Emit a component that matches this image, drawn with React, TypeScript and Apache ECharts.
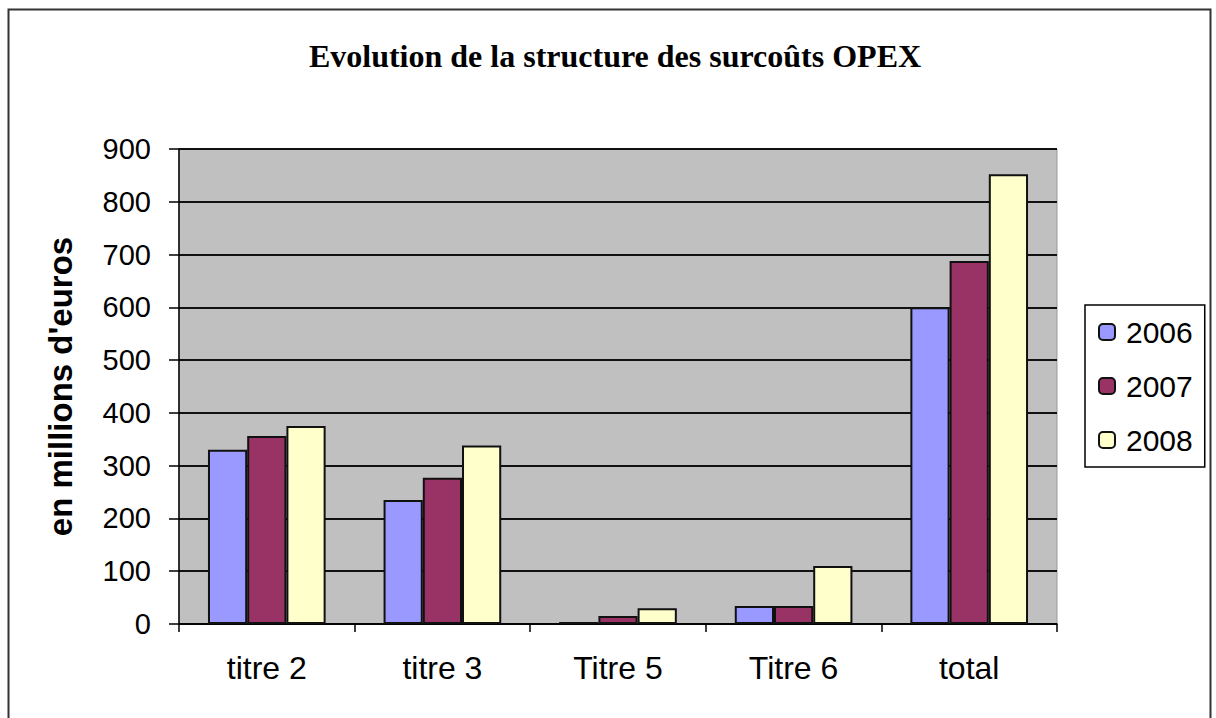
import React, { useEffect, useRef } from "react";
import * as echarts from "echarts";

const categories = ["titre 2", "titre 3", "Titre 5", "Titre 6", "total"];
const seriesNames = ["2006", "2007", "2008"];
const values2006 = [330, 235, 4, 34, 600];
const values2007 = [356, 277, 15, 34, 688];
const values2008 = [375, 338, 30, 110, 852];
const colors = ["#9999ff", "#993366", "#ffffcc"];

export default function App() {
  const ref = useRef<HTMLDivElement>(null);
  useEffect(() => {
    if (!ref.current) return;
    const chart = echarts.init(ref.current, undefined, { renderer: "svg" });
    const data = [values2006, values2007, values2008];
    chart.setOption({
      animation: false,
      backgroundColor: "#ffffff",
      title: {
        text: "Evolution de la structure des surcoûts OPEX",
        left: 610,
        textAlign: "center",
        top: 35,
        textStyle: {
          fontFamily: "Liberation Serif",
          fontWeight: "bold",
          fontSize: 32,
          color: "#000",
        },
      },
      graphic: [
        {
          type: "rect",
          shape: { x: 8.5, y: 9.5, width: 1202, height: 720 },
          style: { fill: "none", stroke: "#333", lineWidth: 2 },
          silent: true,
        },
      ],
      legend: {
        orient: "vertical",
        left: 1085,
        top: 305,
        width: 120,
        padding: [12, 12, 12, 13],
        itemGap: 24,
        itemWidth: 16,
        itemHeight: 16,
        borderColor: "#000",
        borderWidth: 1.5,
        data: seriesNames,
        textStyle: {
          fontFamily: "Liberation Sans",
          fontSize: 30,
          color: "#000",
          padding: [0, 0, 0, 6],
        },
      },
      grid: {
        left: 179,
        right: 1216 - 1057,
        top: 149,
        bottom: 718 - 624,
        show: true,
        backgroundColor: "#c0c0c0",
        borderColor: "#999",
        borderWidth: 1,
      },
      xAxis: {
        type: "category",
        data: categories,
        axisLine: { lineStyle: { color: "#000", width: 1.5 } },
        axisTick: { show: true, length: 8, lineStyle: { color: "#000", width: 1.5 } },
        axisLabel: {
          fontFamily: "Liberation Sans",
          fontSize: 32,
          color: "#000",
          margin: 28,
        },
      },
      yAxis: {
        type: "value",
        min: 0,
        max: 900,
        interval: 100,
        name: "en millions d'euros",
        nameLocation: "middle",
        nameGap: 102,
        nameTextStyle: {
          fontFamily: "Liberation Sans",
          fontWeight: "bold",
          fontSize: 33,
          color: "#000",
        },
        axisLine: { show: true, lineStyle: { color: "#000", width: 1.5 } },
        axisTick: { show: true, length: 10, lineStyle: { color: "#000", width: 1.5 } },
        axisLabel: {
          fontFamily: "Liberation Sans",
          fontSize: 29,
          color: "#000",
          margin: 28,
        },
        splitLine: { lineStyle: { color: "#111", width: 2 } },
      },
      series: seriesNames.map((name, i) => ({
        name,
        type: "bar",
        data: data[i],
        barGap: "0%",
        barCategoryGap: "33%",
        itemStyle: { color: colors[i], borderColor: "#111", borderWidth: 2 },
      })),
    });
    return () => chart.dispose();
  }, []);
  return (
    <div
      ref={ref}
      style={{ position: "fixed", left: 0, top: 0, width: 1216, height: 718 }}
    />
  );
}
